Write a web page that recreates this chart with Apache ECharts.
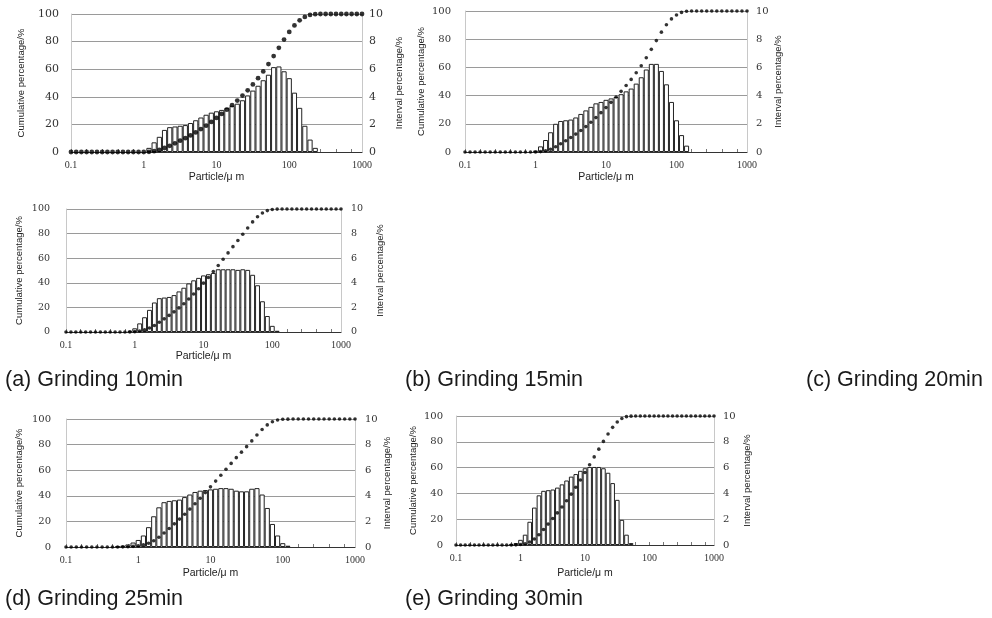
<!DOCTYPE html>
<html><head><meta charset="utf-8">
<script src="https://cdn.jsdelivr.net/npm/echarts@6/dist/echarts.min.js"></script>
<style>html,body{margin:0;padding:0;background:#fff}#c{width:992px;height:618px}</style>
</head><body><div id="c"></div>
<script>
// particle size classes (um), 14 per decade, 0.1 .. 1000
const sizes = [0.1,0.118,0.139,0.164,0.193,0.228,0.268,0.316,0.373,0.439,0.518,0.611,0.72,0.848,
  1,1.18,1.39,1.64,1.93,2.28,2.68,3.16,3.73,4.39,5.18,6.11,7.2,8.48,
  10,11.8,13.9,16.4,19.3,22.8,26.8,31.6,37.3,43.9,51.8,61.1,72,84.8,
  100,118,139,164,193,228,268,316,373,439,518,611,720,848,1000];
const xTickLabels = ['0.1','1','10','100','1000'];
const captions = ['(a) Grinding 10min','(b) Grinding 15min','(c) Grinding 20min','(d) Grinding 25min','(e) Grinding 30min'];

// interval percentage (%), right axis
const intervalA = [0,0,0,0,0,0,0,0,0,0,0,0,0,0,0,
  0.3,0.7,1.1,1.6,1.8,1.85,1.9,1.95,2.1,2.3,2.5,2.7,2.85,2.95,3.05,3.2,3.35,3.5,3.75,4.1,4.45,4.8,5.2,5.6,6.15,6.2,5.85,5.35,4.3,3.2,1.9,0.9,0.3,
  0,0,0,0,0,0,0,0,0];
const intervalB = [0,0,0,0,0,0,0,0,0,0,0,0,0,0,
  0.1,0.4,0.85,1.4,2.0,2.2,2.25,2.3,2.45,2.7,2.95,3.2,3.45,3.55,3.7,3.8,3.9,4.1,4.3,4.5,4.85,5.3,5.85,6.25,6.25,5.75,4.8,3.55,2.25,1.2,0.45,
  0,0,0,0,0,0,0,0,0,0,0,0];
const intervalC = [0,0,0,0,0,0,0,0,0,0,0,0,0,
  0.1,0.3,0.7,1.2,1.8,2.4,2.75,2.8,2.85,3.0,3.3,3.6,3.95,4.2,4.4,4.6,4.7,4.8,5.1,5.1,5.1,5.1,5.05,5.1,5.05,4.65,3.8,2.5,1.3,0.5,0.1,
  0,0,0,0,0,0,0,0,0,0,0,0,0];
const intervalD = [0,0,0,0,0,0,0,0,0,0,
  0.05,0.1,0.2,0.35,0.55,0.9,1.55,2.4,3.1,3.5,3.6,3.65,3.7,3.9,4.1,4.3,4.4,4.45,4.5,4.55,4.6,4.6,4.55,4.4,4.35,4.35,4.55,4.6,4.1,3.05,1.8,0.9,0.3,0.1,
  0,0,0,0,0,0,0,0,0,0,0,0,0];
const intervalE = [0,0,0,0,0,0,0,0,0,0,0,0,
  0.05,0.15,0.4,0.8,1.8,2.9,3.85,4.2,4.25,4.3,4.45,4.7,5.0,5.3,5.5,5.75,5.95,6.05,6.05,6.05,5.95,5.6,4.8,3.5,1.95,0.8,0.15,
  0,0,0,0,0,0,0,0,0,0,0,0,0,0,0,0,0,0];

// cumulative percentage (%), left axis
const cumA = [0,0,0,0,0,0,0,0,0,0,0,0,0,0,0,
  0.1,0.6,1.5,2.9,4.5,6.3,8.2,10.0,12.0,14.2,16.6,19.1,21.8,24.7,27.6,30.7,33.9,37.3,40.9,44.7,49.0,53.5,58.4,63.7,69.5,75.5,81.5,87.0,91.7,95.4,97.9,99.3,99.9,100,
  100,100,100,100,100,100,100,100];
const cumB = [0,0,0,0,0,0,0,0,0,0,0,0,0,0,
  0.0,0.3,0.9,2.0,3.7,5.8,8.0,10.3,12.7,15.2,18.0,21.1,24.4,27.9,31.5,35.2,39.0,43.0,47.2,51.5,56.2,61.2,66.8,72.8,79.0,85.0,90.2,94.4,97.2,99.0,99.8,100,
  100,100,100,100,100,100,100,100,100,100,100];
const cumC = [0,0,0,0,0,0,0,0,0,0,0,0,0,
  0.1,0.3,0.8,1.7,3.2,5.3,7.9,10.7,13.5,16.4,19.6,23.0,26.8,30.9,35.2,39.7,44.3,49.1,54.1,59.2,64.3,69.4,74.4,79.5,84.6,89.5,93.7,96.8,98.7,99.6,99.9,100,
  100,100,100,100,100,100,100,100,100,100,100,100];
const cumD = [0,0,0,0,0,0,0,0,0,0,
  0,0.1,0.2,0.5,1.0,1.7,2.9,4.9,7.6,10.9,14.5,18.1,21.8,25.6,29.6,33.8,38.1,42.5,47.0,51.5,56.1,60.7,65.3,69.8,74.1,78.4,82.9,87.5,91.8,95.4,97.8,99.2,99.8,99.9,100,
  100,100,100,100,100,100,100,100,100,100,100,100];
const cumE = [0,0,0,0,0,0,0,0,0,0,0,0,
  0,0.1,0.4,1.0,2.3,4.6,8.0,12.0,16.2,20.5,24.9,29.4,34.3,39.4,44.8,50.4,56.2,62.2,68.3,74.3,80.3,86.0,91.2,95.4,98.1,99.5,99.9,100,
  100,100,100,100,100,100,100,100,100,100,100,100,100,100,100,100,100];

// panel layout
const panels = [
  {iv: intervalA, cu: cumA, left: 71, top: 14, width: 291, height: 138, lg: 45, rg: 32, xg: 20, dot: 4.8, lm: 12, rm: 7, yf: 11},
  {iv: intervalB, cu: cumB, left: 465, top: 11, width: 282, height: 141, lg: 39, rg: 26, xg: 20, dot: 3.6, lm: 14, rm: 9, yf: 10},
  {iv: intervalC, cu: cumC, left: 66, top: 209, width: 275, height: 123, lg: 42, rg: 34, xg: 15, dot: 3.6, lm: 16, rm: 10, yf: 9.5},
  {iv: intervalD, cu: cumD, left: 66, top: 419, width: 289, height: 128, lg: 42, rg: 27, xg: 21, dot: 3.6, lm: 15, rm: 10, yf: 10},
  {iv: intervalE, cu: cumE, left: 456, top: 416, width: 258, height: 129, lg: 38, rg: 28, xg: 23, dot: 3.6, lm: 13, rm: 9, yf: 10}
];

const serif = 'DejaVu Serif';
const serif2 = 'Liberation Serif';
const sans = 'Liberation Sans';
const grid = [], xAxis = [], yAxis = [], series = [];
panels.forEach((p, i) => {
  grid.push({left: p.left, top: p.top, width: p.width, height: p.height, containLabel: false});
  xAxis.push({
    type: 'category', gridIndex: i, data: sizes.map(String), boundaryGap: false,
    axisLine: {lineStyle: {color: '#333', width: 1}},
    axisTick: {show: true, inside: true, interval: 2, length: 3, lineStyle: {color: '#777'}},
    axisLabel: {interval: 13, margin: 8, color: '#333', fontFamily: serif2, fontSize: 10,
      formatter: (v, idx) => xTickLabels[Math.round(idx / 14)]},
    name: 'Particle/\u03bc m', nameLocation: 'middle', nameGap: p.xg,
    nameTextStyle: {fontFamily: sans, fontSize: 10.5, color: '#222'},
    splitLine: {show: false}
  });
  yAxis.push({
    type: 'value', gridIndex: i, min: 0, max: 100, interval: 20, position: 'left',
    axisLine: {show: true, lineStyle: {color: '#c8c8c8'}},
    axisTick: {show: false},
    axisLabel: {margin: p.lm, color: '#333', fontFamily: serif, fontSize: p.yf},
    splitLine: {show: true, lineStyle: {color: '#9a9a9a', width: 1}},
    name: 'Cumulative percentage/%', nameLocation: 'middle', nameRotate: 90, nameGap: p.lg,
    nameTextStyle: {fontFamily: sans, fontSize: 9.5, color: '#222'}
  });
  yAxis.push({
    type: 'value', gridIndex: i, min: 0, max: 10, interval: 2, position: 'right',
    axisLine: {show: true, lineStyle: {color: '#c8c8c8'}},
    axisTick: {show: false},
    axisLabel: {margin: p.rm, color: '#333', fontFamily: serif, fontSize: p.yf},
    splitLine: {show: false},
    name: 'Interval percentage/%', nameLocation: 'middle', nameRotate: 90, nameGap: p.rg,
    nameTextStyle: {fontFamily: sans, fontSize: 9.5, color: '#222'}
  });
  series.push({
    type: 'bar', xAxisIndex: i, yAxisIndex: 2 * i + 1,
    data: p.iv.map(v => v > 0 ? v : '-'),
    barWidth: '100%', barCategoryGap: '0%',
    itemStyle: {color: '#ffffff', borderColor: '#222', borderWidth: 1},
    silent: true, animation: false
  });
  series.push({
    type: 'scatter', xAxisIndex: i, yAxisIndex: 2 * i,
    data: p.cu, symbol: 'circle', symbolSize: p.dot,
    itemStyle: {color: '#000'}, silent: true, animation: false, z: 5
  });
});

const capPos = [[5, 381], [405, 381], [806, 381], [5, 600], [405, 600]];
const graphic = captions.map((t, i) => ({
  type: 'text', left: capPos[i][0], top: capPos[i][1] - 12,
  style: {text: t, font: '21.5px "Liberation Sans"', fill: '#1a1a1a'}
}));

const chart = echarts.init(document.getElementById('c'), null, {renderer: 'canvas'});
chart.setOption({animation: false, grid, xAxis, yAxis, series, graphic});
</script>
</body></html>
